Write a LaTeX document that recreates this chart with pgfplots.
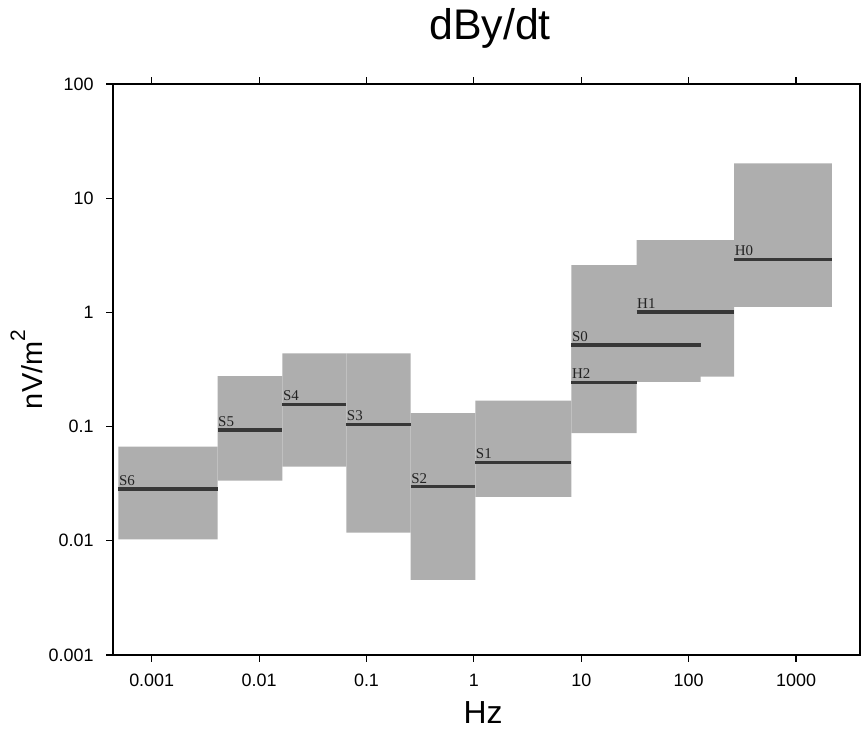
\documentclass[border=0pt]{standalone}
\usepackage{fontspec}
\setmainfont{Liberation Sans}
\newfontfamily\seriffont{Liberation Serif}
\usepackage{pgfplots}
\pgfplotsset{compat=1.18}
\definecolor{boxgray}{RGB}{174,174,174}
\definecolor{linegray}{RGB}{55,55,55}
\definecolor{labgray}{RGB}{35,35,35}
\begin{document}
\begin{tikzpicture}
\begin{axis}[
  scale only axis, width=747bp, height=571bp,
  xmode=log, ymode=log,
  xmin=4.36e-4, xmax=3940, ymin=0.001, ymax=100,
  xtick={0.001,0.01,0.1,1,10,100,1000},
  xticklabels={0.001,0.01,0.1,1,10,100,1000},
  ytick={0.001,0.01,0.1,1,10,100},
  yticklabels={0.001,0.01,0.1,1,10,100},
  xminorticks=false, yminorticks=false,
  xtick pos=both, ytick pos=left, tick align=outside,
  major tick length=7bp,
  axis line style={line width=1.4bp},
  every tick/.style={black, line width=1.2bp},
  tick label style={font=\fontsize{18}{18}\selectfont},
  xticklabel style={text height=13bp, text depth=0pt, yshift=-8bp},
  yticklabel style={xshift=-9bp},
  title={dBy/dt},
  title style={font=\fontsize{43}{43}\selectfont, at={(axis description cs:0.5047,1.0683)}, anchor=base},
  xlabel={Hz},
  xlabel style={font=\fontsize{32}{32}\selectfont, at={(axis description cs:0.4953,-0.1191)}, anchor=base},
  ylabel={nV/m\raisebox{0.62em}{\fontsize{21}{21}\selectfont 2}},
  ylabel style={font=\fontsize{29}{29}\selectfont, at={(axis description cs:-0.0937,0.5)}, anchor=base},
  clip=false,
]
% boxes (x1,x2 ; ylow,yhigh)
\addplot[fill=boxgray, draw=none] coordinates {(0.00049,0.0103) (0.0041,0.0103) (0.0041,0.0667) (0.00049,0.0667) (0.00049,0.0103)};
\addplot[fill=boxgray, draw=none] coordinates {(0.0041,0.0336) (0.0165,0.0336) (0.0165,0.277) (0.0041,0.277) (0.0041,0.0336)};
\addplot[fill=boxgray, draw=none] coordinates {(0.0165,0.0446) (0.0648,0.0446) (0.0648,0.438) (0.0165,0.438) (0.0165,0.0446)};
\addplot[fill=boxgray, draw=none] coordinates {(0.0648,0.0118) (0.258,0.0118) (0.258,0.438) (0.0648,0.438) (0.0648,0.0118)};
\addplot[fill=boxgray, draw=none] coordinates {(0.258,0.00454) (1.03,0.00454) (1.03,0.131) (0.258,0.131) (0.258,0.00454)};
\addplot[fill=boxgray, draw=none] coordinates {(1.03,0.0243) (8.1,0.0243) (8.1,0.169) (1.03,0.169) (1.03,0.0243)};
\addplot[fill=boxgray, draw=none] coordinates {(8.1,0.0879) (32.7,0.0879) (32.7,0.5) (8.1,0.5) (8.1,0.0879)};
\addplot[fill=boxgray, draw=none] coordinates {(8.1,0.247) (129,0.247) (129,2.60) (8.1,2.60) (8.1,0.247)};
\addplot[fill=boxgray, draw=none] coordinates {(32.7,0.274) (265,0.274) (265,4.30) (32.7,4.30) (32.7,0.274)};
\addplot[fill=boxgray, draw=none] coordinates {(265,1.12) (2160,1.12) (2160,20.2) (265,20.2) (265,1.12)};
% level lines
\addplot[linegray, line width=3.3bp] coordinates {(0.00049,0.0284) (0.0041,0.0284)};
\addplot[linegray, line width=3.3bp] coordinates {(0.0041,0.0933) (0.0165,0.0933)};
\addplot[linegray, line width=3.3bp] coordinates {(0.0165,0.157) (0.0648,0.157)};
\addplot[linegray, line width=3.3bp] coordinates {(0.0648,0.105) (0.258,0.105)};
\addplot[linegray, line width=3.3bp] coordinates {(0.258,0.0298) (1.03,0.0298)};
\addplot[linegray, line width=3.3bp] coordinates {(1.03,0.0487) (8.1,0.0487)};
\addplot[linegray, line width=3.3bp] coordinates {(8.1,0.244) (32.7,0.244)};
\addplot[linegray, line width=3.3bp] coordinates {(8.1,0.519) (129,0.519)};
\addplot[linegray, line width=3.3bp] coordinates {(32.7,1.01) (265,1.01)};
\addplot[linegray, line width=3.3bp] coordinates {(265,2.92) (2160,2.92)};
% labels
\begin{scope}[every node/.style={anchor=base west, inner sep=0pt, yshift=3.5bp, xshift=0.5bp, text=labgray, font=\seriffont\fontsize{15}{15}\selectfont}]
\node at (axis cs:0.00049,0.0284) {S6};
\node at (axis cs:0.0041,0.0933) {S5};
\node at (axis cs:0.0165,0.157) {S4};
\node at (axis cs:0.0648,0.105) {S3};
\node at (axis cs:0.258,0.0298) {S2};
\node at (axis cs:1.03,0.0487) {S1};
\node at (axis cs:8.1,0.244) {H2};
\node at (axis cs:8.1,0.519) {S0};
\node at (axis cs:32.7,1.01) {H1};
\node at (axis cs:265,2.92) {H0};
\end{scope}
\end{axis}
\path ([shift={(-113bp,-76bp)}]current axis.south west) rectangle ([shift={(2bp,84bp)}]current axis.north east);
\end{tikzpicture}
\end{document}
